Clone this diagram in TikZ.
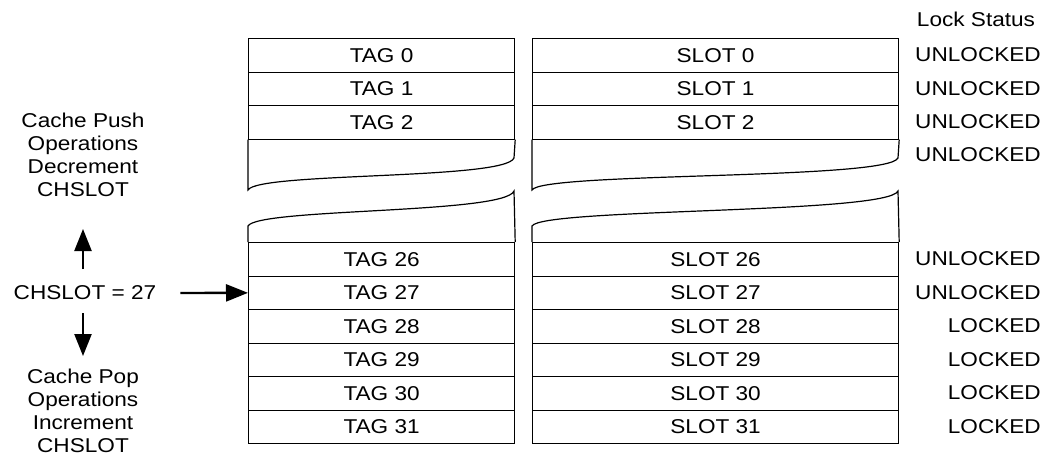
\documentclass[tikz,border=0pt]{standalone}
\usepackage{fontspec}
\setmainfont{Liberation Sans}[FakeStretch=1.13]
\usetikzlibrary{arrows.meta}
\begin{document}
\begin{tikzpicture}[x=1pt,y=-1pt,
  every node/.style={font=\fontsize{20}{23}\selectfont, inner sep=0pt},
  cell/.style={draw, line width=1.2pt, minimum height=33.5pt, anchor=north west},
  tagcell/.style={cell, minimum width=266pt},
  slotcell/.style={cell, minimum width=366pt},
  brk/.style={line width=1.2pt},
  lbl/.style={anchor=east},
  bigarrow/.style={line width=2.4pt, -{Triangle[length=22pt,width=17pt]}},
  note/.style={align=center, font=\fontsize{20}{23}\selectfont}]
\useasboundingbox (0,0) rectangle (1053,474);
% top rows
\foreach \i in {0,1,2}{
  \node[tagcell] (tag\i) at (248,{38+33.5*\i}) {TAG \i};
  \node[slotcell] (slot\i) at (532,{38+33.5*\i}) {SLOT \i};
  \node[lbl] (lock\i) at (1041,{54.75+33.5*\i}) {UNLOCKED};
}
% lower rows
\foreach \i/\n in {0/26,1/27,2/28,3/29,4/30,5/31}{
  \node[tagcell] (tag\n) at (248,{242+33.5*\i}) {TAG \n};
  \node[slotcell] (slot\n) at (532,{242+33.5*\i}) {SLOT \n};
}
\node[lbl] (lock3) at (1041,155) {UNLOCKED};
\node[lbl] (lock26) at (1041,258.75) {UNLOCKED};
\node[lbl] (lock27) at (1041,292.25) {UNLOCKED};
\node[lbl] (lock28) at (1041,325.75) {LOCKED};
\node[lbl] (lock29) at (1041,359.25) {LOCKED};
\node[lbl] (lock30) at (1041,392.75) {LOCKED};
\node[lbl] (lock31) at (1041,426.25) {LOCKED};
\node (lockhead) at (976,19) {Lock Status};
% break shapes, tag column
\draw[brk] (tag2.south west) -- (248,190) .. controls (258,172) and (505,180) .. (514,158) -- (tag2.south east);
\draw[brk] (tag26.north west) -- (248,226) .. controls (258,208) and (505,214) .. (514,191) -- (tag26.north east);
% break shapes, slot column
\draw[brk] (slot2.south west) -- (532,190) .. controls (542,172) and (888,180) .. (898,158) -- (slot2.south east);
\draw[brk] (slot26.north west) -- (532,226) .. controls (542,208) and (888,214) .. (898,191) -- (slot26.north east);
% left annotations
\node[note] (push) at (83,155) {Cache Push\\Operations\\Decrement\\CHSLOT};
\node (chslot) at (85,293) {CHSLOT = 27};
\node[note] (pop) at (83,411) {Cache Pop\\Operations\\Increment\\CHSLOT};
\coordinate (upstart) at (83,269);
\coordinate (upend) at (83,229);
\coordinate (downstart) at (83,313);
\coordinate (downend) at (83,356);
\draw[bigarrow] (upstart) -- (upend);
\draw[bigarrow] (downstart) -- (downend);
\draw[bigarrow] (chslot.east) ++(24,0) coordinate (rs) -- (tag27.west);
\end{tikzpicture}
\end{document}
